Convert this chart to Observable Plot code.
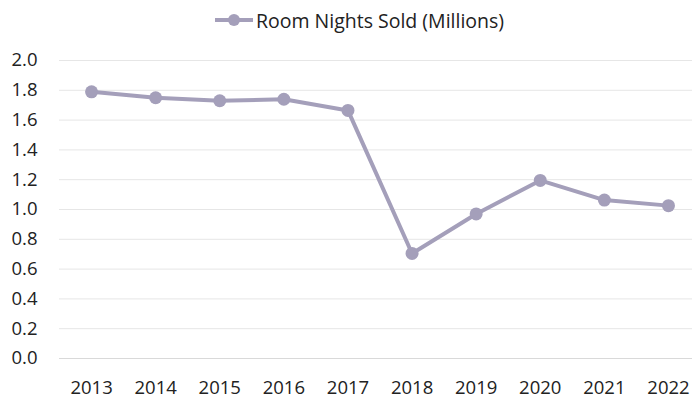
<!DOCTYPE html>
<html>
<head>
<meta charset="utf-8">
<script src="https://cdn.jsdelivr.net/npm/d3@7"></script>
<script src="https://cdn.jsdelivr.net/npm/@observablehq/plot@0.6"></script>
<style>
  html, body { margin: 0; padding: 0; background: #fff; }
  body { width: 692px; height: 402px; overflow: hidden; font-family: "Open Sans", sans-serif; }
  #legend { height: 40px; display: flex; align-items: center; justify-content: center; font-size: 19.5px; color: #222; padding-left: 27px; box-sizing: border-box; }
  #legend svg { margin-right: 3px; }
</style>
</head>
<body>
<div id="legend"></div>
<div id="chart"></div>
<script>
const years = [2013, 2014, 2015, 2016, 2017, 2018, 2019, 2020, 2021, 2022];
const roomNights = [1.79, 1.75, 1.73, 1.74, 1.665, 0.705, 0.97, 1.195, 1.063, 1.026];
const yTicks = [0, 0.2, 0.4, 0.6, 0.8, 1.0, 1.2, 1.4, 1.6, 1.8, 2.0];
const seriesName = "Room Nights Sold (Millions)";
const color = "#A49FBA";

const data = years.map((y, i) => ({year: y, value: roomNights[i]}));

document.getElementById("legend").innerHTML =
  `<svg width="38" height="14"><line x1="0" y1="7" x2="38" y2="7" stroke="${color}" stroke-width="4"/><circle cx="19" cy="7" r="6" fill="${color}"/></svg><span>${seriesName}</span>`;

const chart = Plot.plot({
  width: 692,
  height: 362,
  marginLeft: 59,
  marginRight: 0,
  marginTop: 20,
  marginBottom: 44,
  style: {fontFamily: "Open Sans, sans-serif", fontSize: "18.5px", color: "#222", background: "#fff"},
  x: {domain: [2012.5, 2022.375], label: null},
  y: {domain: [0, 2.0], label: null},
  marks: [
    Plot.gridY(yTicks, {stroke: "#e6e6e6", strokeOpacity: 1, strokeWidth: 1}),
    Plot.ruleY([0], {stroke: "#d9d9d9", strokeWidth: 1}),
    Plot.axisX({ticks: years, tickFormat: d => String(d), tickSize: 0, tickPadding: 22, label: null, fontSize: 18.5}),
    Plot.axisY({ticks: yTicks, tickFormat: d => d.toFixed(1), tickSize: 0, tickPadding: 22, label: null, fontSize: 18.5}),
    Plot.line(data, {x: "year", y: "value", stroke: color, strokeWidth: 4, strokeLinejoin: "round"}),
    Plot.dot(data, {x: "year", y: "value", fill: color, r: 6.5})
  ]
});
document.getElementById("chart").appendChild(chart);
</script>
</body>
</html>
